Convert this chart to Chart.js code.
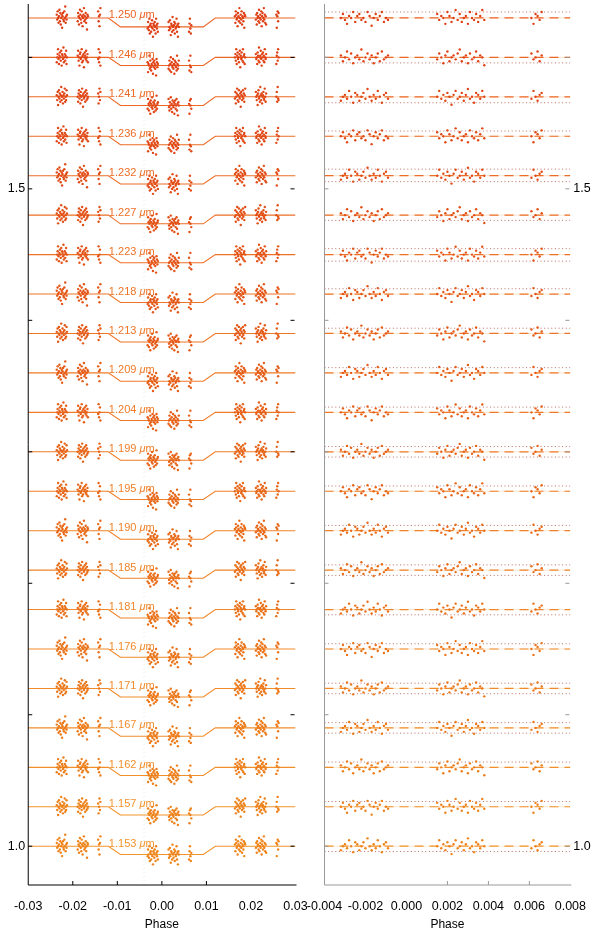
<!DOCTYPE html>
<html>
<head>
<meta charset="utf-8">
<script src="https://cdn.jsdelivr.net/npm/chart.js@4.4.0/dist/chart.umd.min.js"></script>
<style>
  html, body { margin: 0; padding: 0; background: #fff; }
  #wrap { position: relative; width: 600px; height: 932px; }
  #wrap canvas { position: absolute; left: 0; top: 0; }
</style>
</head>
<body>
<div id="wrap">
  <canvas id="lcLeft" width="600" height="932"></canvas>
  <canvas id="lcRight" width="600" height="932"></canvas>
</div>
<script>
// channels, top to bottom
const wavelengths = ["1.250","1.246","1.241","1.236","1.232","1.227","1.223","1.218","1.213","1.209","1.204",
  "1.199","1.195","1.190","1.185","1.181","1.176","1.171","1.167","1.162","1.157","1.153"];
const offsets = [0.63,0.60,0.57,0.54,0.51,0.48,0.45,0.42,0.39,0.36,0.33,0.30,0.27,0.24,0.21,0.18,0.15,0.12,0.09,0.06,0.03,0.00];
const depths = [0.0068,0.0062,0.0066,0.0064,0.0063,0.0066,0.0062,0.0064,0.0065,0.0063,0.0062,
  0.0064,0.0063,0.0065,0.0062,0.0064,0.0063,0.0065,0.0064,0.0062,0.0063,0.0063];

// transit model knots (phase, fraction of depth)
const modelPhase = [-0.03, -0.0120, -0.0093, 0.0093, 0.0120, 0.03];
const modelShape = [0, 0, 1, 1, 0, 0];

// exposure times: three visits, each three orbit chunks (offsets in 1e-4 phase)
const visitStart = [-0.0236, -0.0032, 0.0164];
const inTransitVisit = 1;
const expOffset = [0,1,2,3,4,5,6,7,8,9,10,11,12,13,14,15,16,17,18,19,20,21,22,23,
  47,48,49,50,51,52,53,54,55,56,57,58,59,60,61,62,63,64,65,66,67,68,69,70,
  93,94,95,96,97,98];

// raw flux scatter, units of 1.25e-3 (visit1, visit2, visit3)
const rawA = [2,-1,4,0,-3,1,5,-2,3,-4,0,2,-6,1,3,-1,-2,4,0,7,-3,1,-1,2, -2,3,1,-4,0,5,2,-1,-3,4,1,-5,0,2,6,-2,1,-1,3,-3,0,-7,2,1, 4,-2,1,-5,2,6,
  -1,3,0,-2,5,-4,1,2,-3,0,4,-1,-6,2,1,-2,3,0,-4,5,1,-1,2,-3, 3,-2,0,4,-1,-5,2,1,-3,6,0,-2,1,3,-4,2,-1,0,5,-3,1,-6,2,0, -3,2,5,-1,-4,1,
  1,-3,4,2,-1,0,-5,3,1,-2,6,0,-3,2,-1,4,-4,1,0,-2,3,-6,2,1, -1,2,-4,3,0,1,-2,5,-3,0,2,-1,4,-5,1,3,-2,0,6,-1,2,-3,1,-4, 2,-6,1,4,-2,3];
const rawB = [-3,0,2,5,-1,-4,1,3,0,-2,4,-5,2,1,-1,6,-3,0,2,-2,1,4,-4,0, 1,4,-2,0,-5,2,3,-1,0,5,-3,1,-2,2,-6,0,3,1,-1,4,-2,0,2,-3, -1,5,-3,0,3,-5,
  2,-4,1,0,6,-2,3,-1,-3,1,0,4,-5,2,-1,3,1,-2,0,-6,4,2,-1,1, -2,0,3,-3,1,5,-4,2,0,-1,4,-2,1,-5,3,0,2,-1,-3,6,1,-2,0,3, 3,-3,0,6,-1,-4,
  0,2,-2,5,-4,1,3,-1,0,-3,2,4,-6,1,-1,3,0,-2,5,-3,1,2,-4,0, 2,-1,0,-4,3,1,-2,6,-3,0,1,4,-1,-5,2,0,3,-2,1,-3,5,0,-1,2, -4,1,3,-2,5,0];
const rawC = [1,-2,3,-5,0,4,-1,2,-3,1,6,-2,0,3,-4,1,-1,2,5,-3,0,-2,4,1, 0,-3,2,4,-1,1,-4,3,0,-2,5,1,-6,2,-1,0,3,-3,1,4,-2,2,-1,0, 2,-4,0,5,-2,3,
  -2,4,1,-3,0,2,-5,3,1,-1,5,-2,0,2,-4,1,3,-1,-3,0,6,-2,1,2, 4,-1,-3,2,0,5,-2,1,-4,3,0,-1,2,-5,1,3,-2,0,4,-3,1,-6,2,0, 1,-5,3,0,4,-2,
  -1,3,-4,0,2,5,-2,1,-3,4,0,-1,2,-6,3,1,-2,0,4,-1,2,-3,1,5, 3,0,-2,1,-5,2,4,-1,0,-3,6,1,-2,2,-4,0,1,3,-1,-2,5,0,-3,2, 0,3,-3,6,-1,-2];
const rawSets = [rawA, rawB, rawC];
const rawPick = [0,1,2,1,0,2,1,0,2,0,1,2,1,0,2,1,0,2,0,1,2,0];

// residuals of the in-transit visit, units of 1.5e-3
const resA = [1,-2,0,3,-1,2,-3,0,1,-1,4,-2,0,2,-1,1,-3,0,2,-2,3,-1,0,1, -1,2,0,-3,1,3,-2,0,1,-1,2,4,-2,0,1,-3,2,-1,0,3,-2,1,0,-4, 2,-1,0,3,-2,1];
const resB = [-2,0,1,-1,3,0,-3,2,1,-2,0,2,-1,4,0,-2,1,-1,3,0,-3,1,2,-1, 0,3,-1,1,-2,2,0,-4,1,3,-1,0,2,-2,1,4,-1,0,-3,2,1,-1,3,0, -1,3,0,-2,1,2];
const resC = [0,2,-1,-3,1,0,3,-2,1,2,-1,0,-2,3,1,-4,0,2,-1,1,3,-2,0,-1, 2,-1,1,0,-3,3,1,-2,0,4,-1,2,-2,0,1,-3,3,0,-1,2,-2,1,4,-1, 0,-3,2,1,-1,3];
const resSets = [resA, resB, resC];
const resPick = [2,0,1,2,1,0,2,1,0,1,2,0,2,1,0,1,2,0,1,0,2,1];

// dotted reference levels in the residual panel (relative flux, null = none)
const dotHi = [0.0045,null,null,0.004,0.005,null,0.0045,0.004,0.004,0.004,0.004,0.004,0.004,0.004,0.004,null,0.004,0.004,0.004,0.004,0.004,null];
const dotLo = [null,-0.0042,-0.0045,null,-0.0045,-0.004,-0.005,null,null,null,null,-0.004,null,null,-0.004,-0.004,null,-0.004,-0.004,null,null,-0.004];

const labelPhase = -0.0119;
const yTicks = [1.0, 1.1, 1.2, 1.3, 1.4, 1.5, 1.6];
const yLabelled = [1.0, 1.5];
const xTicksLeft = [-0.03, -0.02, -0.01, 0.00, 0.01, 0.02, 0.03];
const xTicksRight = [-0.004, -0.002, 0.000, 0.002, 0.004, 0.006, 0.008];
const xMarksLeft = [-0.02, -0.01, 0.00, 0.01];
const xMarksRight = [0.002, 0.004, 0.006];
const guidePhase = [-0.004];

const Y_MIN = 0.9705, Y_MAX = 1.6406;
const FONT = '"Liberation Sans", Arial, sans-serif';

function mixColor(i, a, b, alpha) {
  const t = i / (wavelengths.length - 1);
  const c = a.map((v, k) => Math.round(v + (b[k] - v) * t));
  return `rgba(${c[0]},${c[1]},${c[2]},${alpha == null ? 1 : alpha})`;
}
const pointColor = i => mixColor(i, [222, 62, 20], [238, 132, 26]);
const lineColor = i => mixColor(i, [236, 100, 36], [242, 148, 44]);

function phaseOf(k) {
  const v = Math.floor(k / expOffset.length);
  return visitStart[v] + expOffset[k % expOffset.length] * 1e-4;
}

// ---------- left panel: light curves ----------
const leftSets = [];
wavelengths.forEach((w, i) => {
  const noise = rawSets[rawPick[i]];
  const pts = noise.map((n, k) => {
    const v = Math.floor(k / expOffset.length);
    const base = 1 + offsets[i] - (v === inTransitVisit ? depths[i] : 0);
    return { x: phaseOf(k), y: base + n * 0.00125 };
  });
  leftSets.push({ type: 'scatter', data: pts, pointRadius: 1.2, pointBorderWidth: 0,
    pointBackgroundColor: pointColor(i), showLine: false });
});
wavelengths.forEach((w, i) => {
  leftSets.push({ type: 'line', data: modelPhase.map((p, k) => ({ x: p, y: 1 + offsets[i] - depths[i] * modelShape[k] })),
    borderColor: lineColor(i), borderWidth: 1.1, pointRadius: 0, tension: 0 });
});
guidePhase.forEach(g => {
  leftSets.push({ type: 'line', data: [{ x: g, y: Y_MIN }, { x: g, y: Y_MAX }],
    borderColor: 'rgba(150,150,150,0.22)', borderWidth: 1, borderDash: [1, 3], pointRadius: 0 });
});

// ---------- right panel: residuals ----------
const rightSets = [];
const visitExp = expOffset.map(o => visitStart[inTransitVisit] + o * 1e-4);
wavelengths.forEach((w, i) => {
  const res = resSets[resPick[i]];
  rightSets.push({ type: 'scatter', data: res.map((r, k) => ({ x: visitExp[k], y: 1 + offsets[i] + r * 0.0015 })),
    pointRadius: 1.2, pointBorderWidth: 0, pointBackgroundColor: pointColor(i), showLine: false });
});
wavelengths.forEach((w, i) => {
  const lvl = 1 + offsets[i];
  rightSets.push({ type: 'line', data: [{ x: -0.004, y: lvl }, { x: 0.008, y: lvl }],
    borderColor: lineColor(i), borderWidth: 1.2, borderDash: [9, 6], pointRadius: 0 });
  rightSets.push({ type: 'line', data: [{ x: -0.004, y: lvl }, { x: 0.008, y: lvl }],
    borderColor: mixColor(i, [245, 170, 110], [248, 190, 120], 0.35), borderWidth: 1, pointRadius: 0 });
  [dotHi[i], dotLo[i]].forEach(d => {
    if (d == null) return;
    rightSets.push({ type: 'line', data: [{ x: -0.004, y: lvl + d }, { x: 0.008, y: lvl + d }],
      borderColor: 'rgba(165,60,45,0.75)', borderWidth: 1, borderDash: [1, 2.6], pointRadius: 0 });
  });
});

// axes frame, inward tick marks and the two y labels
const framePlugin = {
  id: 'frame',
  afterDraw(chart, args, opts) {
    const { ctx, chartArea: a, scales: { x, y } } = chart;
    ctx.save();
    ctx.strokeStyle = opts.color;
    ctx.lineWidth = 1;
    ctx.beginPath();
    ctx.moveTo(a.left, a.top); ctx.lineTo(a.left, a.bottom); ctx.lineTo(a.right + 1, a.bottom);
    opts.xMarks.forEach(v => { const px = x.getPixelForValue(v); ctx.moveTo(px, a.bottom); ctx.lineTo(px, a.bottom - 4); });
    yTicks.forEach(v => {
      const py = y.getPixelForValue(v);
      ctx.moveTo(a.left, py); ctx.lineTo(a.left + 4, py);
      ctx.moveTo(a.right - 5, py); ctx.lineTo(a.right - 1, py);
    });
    ctx.stroke();
    ctx.fillStyle = '#000';
    ctx.font = '12.5px ' + FONT;
    ctx.textBaseline = 'middle';
    yLabelled.forEach(v => {
      const py = y.getPixelForValue(v);
      if (opts.side === 'left') { ctx.textAlign = 'right'; ctx.fillText(v.toFixed(1), a.left - 3, py); }
      else { ctx.textAlign = 'left'; ctx.fillText(v.toFixed(1), a.right + 3, py); }
    });
    ctx.restore();
  }
};

const labelPlugin = {
  id: 'waveLabels',
  afterDatasetsDraw(chart) {
    const { ctx, scales: { x, y } } = chart;
    ctx.save();
    ctx.textBaseline = 'alphabetic';
    wavelengths.forEach((w, i) => {
      const px = x.getPixelForValue(labelPhase);
      const py = y.getPixelForValue(1 + offsets[i]) + 0.5;
      ctx.fillStyle = lineColor(i);
      ctx.font = '11px ' + FONT;
      const t = w + ' ';
      ctx.fillText(t, px, py);
      let dx = ctx.measureText(t).width;
      ctx.font = 'italic 11px ' + FONT;
      ctx.fillText('\u03bc', px + dx, py);
      dx += ctx.measureText('\u03bc').width;
      ctx.font = '11px ' + FONT;
      ctx.fillText('m', px + dx, py);
    });
    ctx.restore();
  }
};

function baseOptions(xMin, xMax, xTicks, digits, side, pad, frameColor, xMarks) {
  return {
    responsive: false,
    animation: false,
    events: [],
    layout: { padding: pad },
    plugins: { legend: { display: false }, tooltip: { enabled: false }, frame: { color: frameColor, xMarks, side } },
    scales: {
      x: {
        type: 'linear', min: xMin, max: xMax,
        afterBuildTicks: s => { s.ticks = xTicks.map(v => ({ value: v })); },
        afterFit: s => { s.height = 47; },
        grid: { display: false, drawTicks: false }, border: { display: false },
        ticks: { autoSkip: false, maxRotation: 0, padding: 14, color: '#000',
          font: { family: FONT, size: 12.5 }, callback: v => v.toFixed(digits) },
        title: { display: true, text: 'Phase', color: '#000', font: { family: FONT, size: 12 }, padding: { top: 0, bottom: 0 } }
      },
      y: {
        type: 'linear', position: side, min: Y_MIN, max: Y_MAX,
        afterFit: s => { s.width = side === 'left' ? 23 : 22.5; },
        grid: { display: false, drawTicks: false }, border: { display: false },
        ticks: { display: false }
      }
    }
  };
}

new Chart(document.getElementById('lcLeft'), {
  type: 'scatter',
  data: { datasets: leftSets },
  options: baseOptions(-0.03, 0.03, xTicksLeft, 2, 'left', { left: 0, right: 304.5, top: 0, bottom: 0 }, '#000', xMarksLeft),
  plugins: [framePlugin, labelPlugin]
});

new Chart(document.getElementById('lcRight'), {
  type: 'scatter',
  data: { datasets: rightSets },
  options: baseOptions(-0.004, 0.008, xTicksRight, 3, 'right', { left: 324.5, right: 0, top: 0, bottom: 0 }, '#999', xMarksRight),
  plugins: [framePlugin]
});
</script>
</body>
</html>
